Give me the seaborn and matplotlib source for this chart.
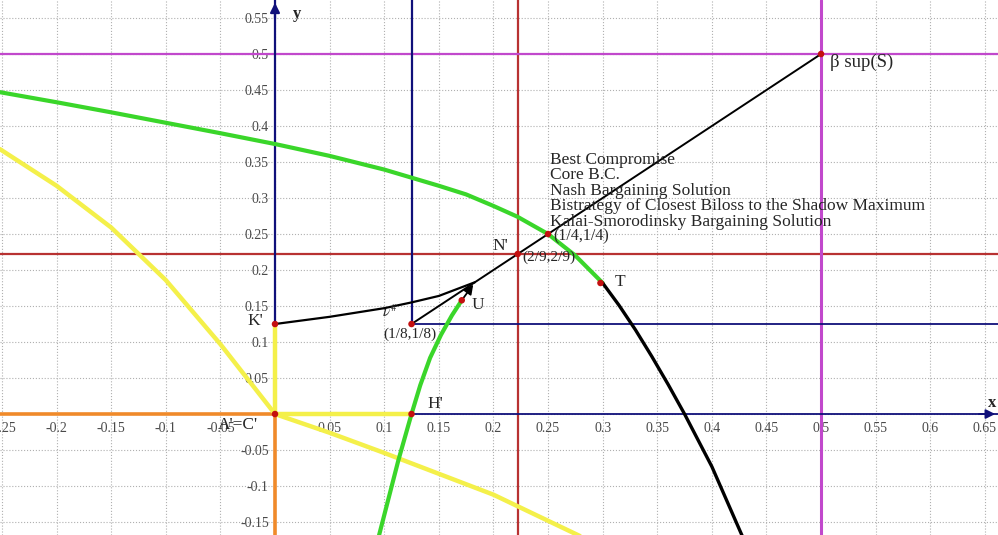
import numpy as np
import pandas as pd
import matplotlib.pyplot as plt
import matplotlib.ticker as mticker
import seaborn as sns

# values
green_top_x = [-0.252, -0.2, -0.15, -0.1, -0.05, 0.0, 0.05, 0.1, 0.15, 0.175, 0.2, 0.222, 0.25, 0.275, 0.3]
green_top_y = [0.447, 0.433, 0.419, 0.4045, 0.390, 0.375, 0.3585, 0.3395, 0.317, 0.305, 0.289, 0.274, 0.25, 0.22, 0.182]

green_low_x = [0.171, 0.162, 0.152, 0.142, 0.133, 0.125, 0.113, 0.095]
green_low_y = [0.158, 0.137, 0.11, 0.078, 0.04, 0.0, -0.064, -0.17]

black_tail_x = [0.3, 0.315, 0.33, 0.345, 0.36, 0.375, 0.4, 0.428]
black_tail_y = [0.182, 0.151, 0.117, 0.08, 0.041, 0.0, -0.073, -0.17]

black_k_x = [0.0, 0.05, 0.1, 0.125, 0.15, 0.183]
black_k_y = [0.125, 0.135, 0.147, 0.155, 0.164, 0.183]

yellow_left_x = [-0.252, -0.2, -0.15, -0.1, -0.05, 0.0]
yellow_left_y = [0.368, 0.317, 0.259, 0.186, 0.097, 0.0]

yellow_right_x = [0.0, 0.05, 0.1, 0.15, 0.2, 0.28]
yellow_right_y = [0.0, -0.026, -0.054, -0.083, -0.112, -0.17]

diag_x = [1 / 8, 0.5]
diag_y = [1 / 8, 0.5]

tip = (0.183, 0.183)

pt_names = ["K'", "A'=C'", "H'", "v#", "U", "N'", "(1/4,1/4)", "T", "beta"]
pt_x = [0.0, 0.0, 1 / 8, 1 / 8, 0.171, 2 / 9, 0.25, 0.298, 0.5]
pt_y = [1 / 8, 0.0, 0.0, 1 / 8, 0.158, 2 / 9, 0.25, 0.182, 0.5]

nash = 2 / 9
sup = 0.5
threat = 1 / 8

solution_names = [
    "Best Compromise",
    "Core B.C.",
    "Nash Bargaining Solution",
    "Bistrategy of Closest Biloss to the Shadow Maximum",
    "Kalai-Smorodinsky Bargaining Solution",
]

xmin, xmax = -0.2518, 0.662
ymin, ymax = -0.168, 0.575

sns.set_theme(style="white")
plt.rcParams['font.family'] = ['Liberation Serif', 'DejaVu Serif']
plt.rcParams['mathtext.fontset'] = 'stix'

NAVY = '#10107a'
ORANGE = '#f08a2a'
RED = '#b83232'
MAGENTA = '#c148cc'
GREEN = '#3ad62a'
YELLOW = '#f4f04a'

fig = plt.figure(figsize=(9.98, 5.35), dpi=100)
ax = fig.add_axes([0, 0, 1, 1])
ax.set_xlim(xmin, xmax)
ax.set_ylim(ymin, ymax)

ax.xaxis.set_major_locator(mticker.MultipleLocator(0.05))
ax.yaxis.set_major_locator(mticker.MultipleLocator(0.05))


def fmt(v, pos):
    if abs(v) < 1e-9:
        return ''
    return f'{v:.2f}'.rstrip('0').rstrip('.')


ax.xaxis.set_major_formatter(mticker.FuncFormatter(fmt))
ax.yaxis.set_major_formatter(mticker.FuncFormatter(fmt))
ax.grid(True, ls=':', color='#b0b0b0', lw=0.8)
ax.set_axisbelow(True)

for side in ['top', 'right']:
    ax.spines[side].set_visible(False)
for side in ['left', 'bottom']:
    ax.spines[side].set_position(('data', 0))
    ax.spines[side].set_color('none')
ax.tick_params(direction='inout', length=9, width=1, color='#3a3a6a',
               labelsize=10, labelcolor='#4a4a4a')
ax.tick_params(axis='x', pad=1)
ax.tick_params(axis='y', pad=0)


def curve(xs, ys, color, lw, z=3):
    sns.lineplot(x=xs, y=ys, sort=False, estimator=None, ax=ax,
                 color=color, linewidth=lw, zorder=z, legend=False)


# reference lines
ax.axvline(nash, color=RED, lw=1.6, zorder=2)
ax.axhline(nash, color=RED, lw=1.6, zorder=2)
ax.axvline(sup, color=MAGENTA, lw=2.2, zorder=2)
ax.axhline(sup, color=MAGENTA, lw=1.6, zorder=2)

# axes: orange on the negative side, navy above the threat point
curve([xmin, 0], [0, 0], ORANGE, 2.6)
curve([0, 0], [0, ymin], ORANGE, 2.6)
curve([threat, threat], [threat, ymax], NAVY, 1.6)
curve([threat, xmax], [threat, threat], NAVY, 1.3)
curve([threat, xmax], [0, 0], NAVY, 1.3)
curve([0, 0], [threat, ymax], NAVY, 1.6)
ax.annotate('', xy=(0, ymax), xytext=(0, ymax - 0.03),
            arrowprops=dict(arrowstyle='-|>', color=NAVY, lw=1.6, mutation_scale=14), zorder=4)
ax.annotate('', xy=(xmax, 0), xytext=(xmax - 0.02, 0),
            arrowprops=dict(arrowstyle='-|>', color=NAVY, lw=1.3, mutation_scale=14), zorder=4)

# yellow boundary pieces
curve(yellow_left_x, yellow_left_y, YELLOW, 3.2)
curve(yellow_right_x, yellow_right_y, YELLOW, 3.2)
curve([0, 0], [0, threat], YELLOW, 3.2)
curve([0, threat], [0, 0], YELLOW, 3.2)

# green frontier and black pieces
curve(green_top_x, green_top_y, GREEN, 3.0)
curve(green_low_x, green_low_y, GREEN, 3.0)
curve(black_tail_x, black_tail_y, 'black', 2.4)
curve(black_k_x, black_k_y, 'black', 1.6)
curve(diag_x, diag_y, 'black', 1.4)
ax.annotate('', xy=tip, xytext=(pt_x[4], pt_y[4]),
            arrowprops=dict(arrowstyle='-|>', color='black', lw=1.3, mutation_scale=14), zorder=5)

pts = pd.DataFrame({'name': pt_names, 'x': pt_x, 'y': pt_y})
sns.scatterplot(data=pts, x='x', y='y', color='#c41010', s=22, edgecolor='none',
                zorder=6, ax=ax, legend=False)
ax.set_xlabel('')
ax.set_ylabel('')

# labels
ax.text(0.0165, 0.556, 'y', fontsize=12, fontweight='bold', va='center', ha='left')
ax.text(0.657, 0.015, 'x', fontsize=12, fontweight='bold', va='center', ha='center')
ax.text(0.508, 0.489, r'β sup(S)', fontsize=13.5, va='center', ha='left')
for i, name in enumerate(solution_names):
    ax.text(0.252, 0.353 - i * 0.0215, name, fontsize=12.5, va='center', ha='left', zorder=7)
ax.text(0.2546, 0.247, '(1/4,1/4)', fontsize=11.5, va='center', ha='left', zorder=7)
ax.text(0.206, 0.234, "N'", fontsize=12.5, va='center', ha='center', zorder=7)
ax.text(0.2265, 0.218, '(2/9,2/9)', fontsize=11, va='center', ha='left', zorder=7)
ax.text(0.316, 0.184, 'T', fontsize=12.5, va='center', ha='center', zorder=7)
ax.text(0.186, 0.151, 'U', fontsize=12.5, va='center', ha='center', zorder=7)
ax.text(0.105, 0.142, r'$\nu^{\#}$', fontsize=11, va='center', ha='center', zorder=7)
ax.text(0.124, 0.111, '(1/8,1/8)', fontsize=11, va='center', ha='center', zorder=7)
ax.text(-0.018, 0.129, "K'", fontsize=12.5, va='center', ha='center', zorder=7)
ax.text(0.147, 0.014, "H'", fontsize=12.5, va='center', ha='center', zorder=7)
ax.text(-0.034, -0.015, "A'=C'", fontsize=12.5, va='center', ha='center', zorder=7)

fig.savefig('out.png', dpi=100)
